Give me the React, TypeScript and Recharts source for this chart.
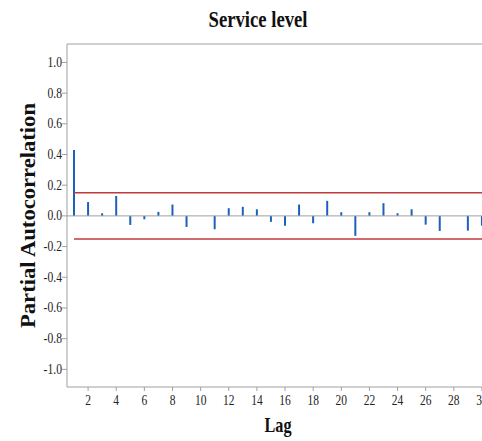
import React from 'react';
import { ComposedChart, Bar, XAxis, YAxis, ReferenceLine, Label } from 'recharts';

const TITLE = 'Service level';
const X_LABEL = 'Lag';
const Y_LABEL = 'Partial Autocorrelation';
const LAGS = [1, 2, 3, 4, 5, 6, 7, 8, 9, 10, 11, 12, 13, 14, 15, 16, 17, 18, 19, 20, 21, 22, 23, 24, 25, 26, 27, 28, 29, 30];
const PACF = [0.43, 0.09, 0.017, 0.13, -0.059, -0.022, 0.026, 0.074, -0.072, 0, -0.087, 0.05, 0.059, 0.043, -0.039, -0.065, 0.074, -0.048, 0.098, 0.024, -0.13, 0.024, 0.083, 0.017, 0.043, -0.057, -0.098, 0, -0.096, -0.065];
const UPPER_LIMIT = 0.15;
const LOWER_LIMIT = -0.15;
const X_TICKS = [2, 4, 6, 8, 10, 12, 14, 16, 18, 20, 22, 24, 26, 28, 30];
const Y_TICKS = [-1.0, -0.8, -0.6, -0.4, -0.2, 0.0, 0.2, 0.4, 0.6, 0.8, 1.0];
const X_DOMAIN = [0.5, 30.5];
const Y_DOMAIN = [-1.115, 1.12];

const data = LAGS.map((lag, i) => ({ lag, pacf: PACF[i] }));

const FONT = '"Liberation Serif", "Times New Roman", serif';

const YTick = (props: any) => {
  const { x, y, payload } = props;
  return (
    <g transform={`translate(${x},${y})`}>
      <text x={0} y={0} dy={4.5} textAnchor="end" fontFamily={FONT} fontSize={14} fill="#222" transform="scale(0.83,1)">
        {payload.value.toFixed(1)}
      </text>
    </g>
  );
};

const XTick = (props: any) => {
  const { x, y, payload } = props;
  return (
    <g transform={`translate(${x},${y})`}>
      <text x={0} y={0} dy={12} textAnchor="middle" fontFamily={FONT} fontSize={14} fill="#222" transform="scale(0.82,1)">
        {String(payload.value)}
      </text>
    </g>
  );
};

const renderTitle = (props: any) => {
  const vb = props.viewBox || {};
  const cx = vb.x + vb.width / 2 - 20;
  return (
    <text x={cx} y={vb.y - 17} textAnchor="middle" fontFamily={FONT} fontWeight="bold" fontSize={24} fill="#111" textLength={99} lengthAdjust="spacingAndGlyphs">
      {TITLE}
    </text>
  );
};

const renderXLabel = (props: any) => {
  const vb = props.viewBox || {};
  const cx = vb.x + vb.width / 2;
  return (
    <text x={cx} y={432} textAnchor="middle" fontFamily={FONT} fontWeight="bold" fontSize={22} fill="#111" textLength={27} lengthAdjust="spacingAndGlyphs">
      {X_LABEL}
    </text>
  );
};

const renderYLabel = (props: any) => {
  const vb = props.viewBox || {};
  const cy = vb.y + vb.height / 2;
  const cx = 35;
  return (
    <text x={cx} y={cy} transform={`rotate(-90, ${cx}, ${cy})`} textAnchor="middle" fontFamily={FONT} fontWeight="bold" fontSize={22} fill="#111" textLength={225} lengthAdjust="spacingAndGlyphs">
      {Y_LABEL}
    </text>
  );
};

export default function App() {
  return (
    <div style={{ position: 'fixed', left: 0, top: 0, width: 482, height: 441, overflow: 'hidden', background: '#fff' }}>
      <ComposedChart width={500} height={441} data={data} margin={{ top: 44, right: 11, bottom: 0, left: 0 }}>
        <XAxis xAxisId="bottom" dataKey="lag" type="number" domain={X_DOMAIN} ticks={X_TICKS} height={54} tickSize={4} tickMargin={2} tickLine={{ stroke: '#a0a0a0' }} axisLine={{ stroke: '#a0a0a0' }} tick={<XTick />} interval={0}>
          <Label content={renderXLabel} />
        </XAxis>
        <YAxis yAxisId="left" type="number" domain={Y_DOMAIN} ticks={Y_TICKS} width={67} tickSize={5} tickMargin={0} tickLine={{ stroke: '#a0a0a0' }} axisLine={{ stroke: '#a0a0a0' }} tick={<YTick />} interval={0} allowDataOverflow>
          <Label content={renderYLabel} />
        </YAxis>
        <ReferenceLine xAxisId="bottom" yAxisId="left" y={Y_DOMAIN[1]} stroke="#a0a0a0" strokeWidth={1}>
          <Label content={renderTitle} />
        </ReferenceLine>
        <ReferenceLine xAxisId="bottom" yAxisId="left" y={0} stroke="#a0a0a0" strokeWidth={1} />
        <ReferenceLine xAxisId="bottom" yAxisId="left" segment={[{ x: LAGS[0], y: UPPER_LIMIT }, { x: X_DOMAIN[1], y: UPPER_LIMIT }]} stroke="#c0393b" strokeWidth={1.5} />
        <ReferenceLine xAxisId="bottom" yAxisId="left" segment={[{ x: LAGS[0], y: LOWER_LIMIT }, { x: X_DOMAIN[1], y: LOWER_LIMIT }]} stroke="#c0393b" strokeWidth={1.5} />
        <Bar xAxisId="bottom" yAxisId="left" dataKey="pacf" fill="#1a62b8" barSize={2} isAnimationActive={false} />
      </ComposedChart>
    </div>
  );
}
